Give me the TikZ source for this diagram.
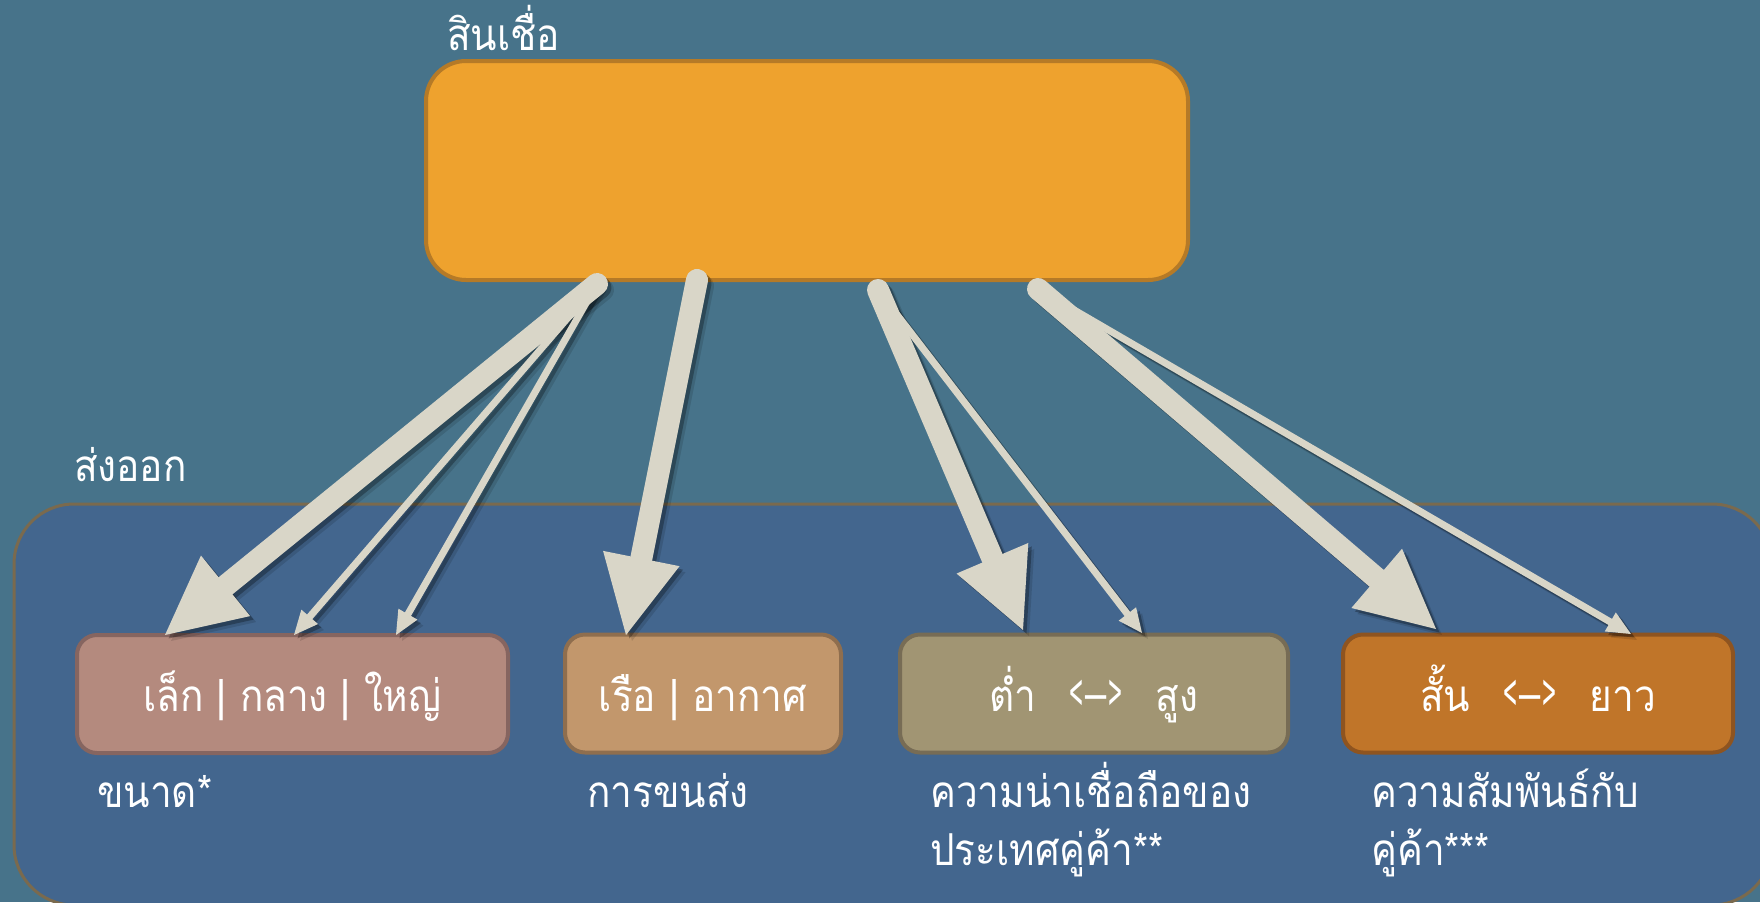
\documentclass[tikz,border=0pt]{standalone}
\usepackage{fontspec}
\usepackage{graphicx}
\newfontfamily\thai[Script=Thai,FakeStretch=0.88]{Loma}
\usetikzlibrary{arrows.meta}
\definecolor{bg}{HTML}{47738A}
\definecolor{outerfill}{HTML}{43668E}
\definecolor{outerbrd}{HTML}{7A6A4E}
\definecolor{topfill}{HTML}{EEA22E}
\definecolor{topbrd}{HTML}{B57A27}
\definecolor{f1}{HTML}{B48A7E}\definecolor{d1}{HTML}{866560}
\definecolor{f2}{HTML}{C2976C}\definecolor{d2}{HTML}{8F6E4E}
\definecolor{f3}{HTML}{A19573}\definecolor{d3}{HTML}{776C55}
\definecolor{f4}{HTML}{C07529}\definecolor{d4}{HTML}{8E5420}
\definecolor{arr}{HTML}{D9D6C8}
\newcommand{\lt}{\scalebox{0.62}[1.2]{<}\hspace{2pt}}
\newcommand{\gt}{\hspace{2pt}\scalebox{0.62}[1.2]{>}}
\newcommand{\gap}{\hspace{33pt}}
\tikzset{
  lbl/.style={text=white, font=\thai\fontsize{44}{58}\selectfont, inner sep=0pt},
  smallbox/.style={rounded corners=20pt, line width=4pt, minimum height=118pt, inner sep=0pt,
    text=white, font=\thai\fontsize{44}{58}\selectfont, text height=35pt, text depth=0pt},
  thick arrow/.style={line width=22pt, line cap=round, -{Triangle[length=78pt,width=78pt,line width=0pt]}},
  thin arrow/.style={line width=7pt, line cap=round, -{Triangle[length=24pt,width=22pt,line width=0pt]}},
}
\begin{document}
\begin{tikzpicture}[x=1pt,y=-1pt]
\fill[bg] (0,0) rectangle (1760,902);
\useasboundingbox (0,0) rectangle (1760,902);
% outer container
\node[draw=outerbrd, fill=outerfill, line width=3pt, rounded corners=60pt,
  minimum width=1758pt, minimum height=401pt, inner sep=0pt] (outer) at (893,704.5) {};
\node[lbl, anchor=base west] (lexport) at (74,481) {ส่งออก};
% top box
\node[draw=topbrd, fill=topfill, line width=4pt, rounded corners=40pt,
  minimum width=762pt, minimum height=219pt, inner sep=0pt] (top) at (807,170.5) {};
\node[lbl, anchor=base west] (lcredit) at (447,50) {สินเชื่อ};
% bottom boxes
\node[smallbox, draw=d1, fill=f1, minimum width=431pt] (b1) at (292.5,694) {เล็ก | กลาง | ใหญ่};
\node[smallbox, draw=d2, fill=f2, minimum width=276pt] (b2) at (703,693.5) {เรือ | อากาศ};
\node[smallbox, draw=d3, fill=f3, minimum width=388pt] (b3) at (1094,693.5) {ต่ำ\gap\lt–\gt\gap สูง};
\node[smallbox, draw=d4, fill=f4, minimum width=390pt] (b4) at (1538,693.5) {สั้น\gap\lt–\gt\gap ยาว};
% captions
\node[lbl, anchor=base west] (c1) at (97,807) {ขนาด*};
\node[lbl, anchor=base west] (c2) at (587,807) {การขนส่ง};
\node[lbl, anchor=base west, align=left] (c3) at (930,865) {ความน่าเชื่อถือของ\\ประเทศคู่ค้า**};
\node[lbl, anchor=base west, align=left] (c4) at (1371,865) {ความสัมพันธ์กับ\\คู่ค้า***};
% arrow coordinates
\coordinate (s1) at (597,284);
\coordinate (s2) at (697,280);
\coordinate (s3) at (878,290);
\coordinate (s4) at (1038,289);
\coordinate (t1) at (165,635);
\coordinate (t1b) at (294,635);
\coordinate (t1c) at (396,635);
\coordinate (t2) at (626,635);
\coordinate (t3) at (1023,630);
\coordinate (t3b) at (1142,633);
\coordinate (t4) at (1436,629);
\coordinate (t4b) at (1631,634);
% shadows
\begin{scope}[transform canvas={shift={(6pt,-6pt)}}, draw=black, fill=black, opacity=0.12]
  \draw[thin arrow] (s1) -- (t1b);
  \draw[thin arrow] (s1) -- (t1c);
  \draw[thin arrow] (s3) -- (t3b);
  \draw[thin arrow] (s4) -- (t4b);
  \draw[thick arrow] (s1) -- (t1);
  \draw[thick arrow] (s2) -- (t2);
  \draw[thick arrow] (s3) -- (t3);
  \draw[thick arrow] (s4) -- (t4);
\end{scope}
\begin{scope}[transform canvas={shift={(3.5pt,-3.5pt)}}, draw=black, fill=black, opacity=0.28]
  \draw[thin arrow] (s1) -- (t1b);
  \draw[thin arrow] (s1) -- (t1c);
  \draw[thin arrow] (s3) -- (t3b);
  \draw[thin arrow] (s4) -- (t4b);
  \draw[thick arrow] (s1) -- (t1);
  \draw[thick arrow] (s2) -- (t2);
  \draw[thick arrow] (s3) -- (t3);
  \draw[thick arrow] (s4) -- (t4);
\end{scope}
% arrows
\begin{scope}[draw=arr, fill=arr]
  \draw[thin arrow] (s1) -- (t1b);
  \draw[thin arrow] (s1) -- (t1c);
  \draw[thin arrow] (s3) -- (t3b);
  \draw[thin arrow] (s4) -- (t4b);
  \draw[thick arrow] (s1) -- (t1);
  \draw[thick arrow] (s2) -- (t2);
  \draw[thick arrow] (s3) -- (t3);
  \draw[thick arrow] (s4) -- (t4);
\end{scope}
\end{tikzpicture}
\end{document}
